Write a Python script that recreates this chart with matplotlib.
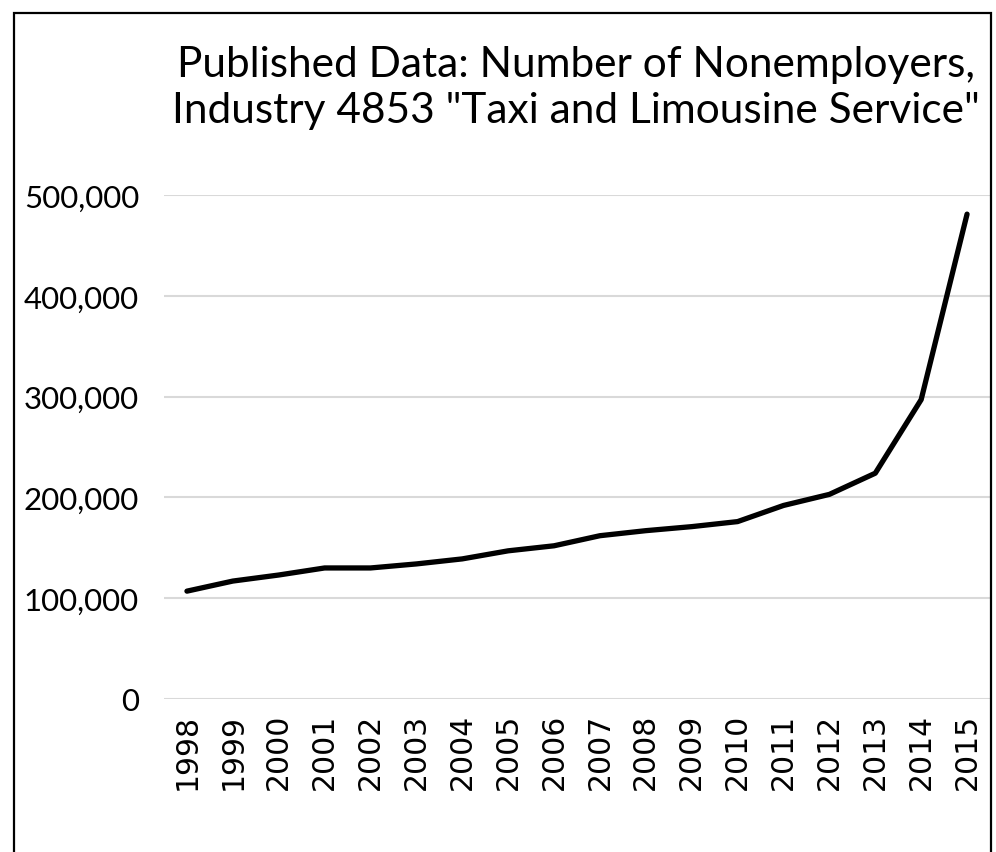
import matplotlib.pyplot as plt
from matplotlib.patches import Rectangle
from matplotlib.ticker import FuncFormatter

# Nonemployer counts, NAICS 4853
years = [str(y) for y in range(1998, 2016)]
nonemployers = [107000, 117000, 123000, 130000, 130000, 134000, 139000, 147000,
                152000, 162000, 167000, 171000, 176000, 192000, 203000, 224000,
                297000, 481000]
y_ticks = [0, 100000, 200000, 300000, 400000, 500000]

W, H = 996, 853
fig = plt.figure(figsize=(W / 100, H / 100), dpi=100)
ax = fig.add_axes([164 / W, 1 - 700 / H, (990 - 164) / W, (700 - 196) / H])

ax.plot(range(len(years)), nonemployers, color="black", lw=3.8,
        solid_capstyle="round", solid_joinstyle="round", clip_on=False, zorder=3)

ax.set_xlim(-0.5, len(years) - 0.5)
ax.set_ylim(0, 500000)
ax.set_yticks(y_ticks)
ax.yaxis.set_major_formatter(FuncFormatter(lambda v, p: f"{v:,.0f}"))
ax.set_xticks(range(len(years)))
ax.set_xticklabels(years, rotation=90, fontsize=21.5, family="DejaVu Sans")
for lab in ax.get_yticklabels():
    lab.set_family(["Lato", "DejaVu Sans"])
    lab.set_fontsize(22.5)
ax.tick_params(axis="both", length=0)
ax.tick_params(axis="y", pad=18)
ax.tick_params(axis="x", pad=10)
ax.grid(axis="y", color="#d9d9d9", lw=1.5)
ax.set_axisbelow(True)
for s in ax.spines.values():
    s.set_visible(False)

fig.text(576 / W, 1 - 88 / H,
         'Published Data: Number of Nonemployers,\nIndustry 4853 "Taxi and Limousine Service"',
         ha="center", va="center", fontsize=30.5, family=["Lato", "DejaVu Sans"],
         linespacing=1.25)

# chart-area border (bottom edge falls outside the crop)
fig.add_artist(Rectangle((14 / W, -0.05), (991 - 14) / W, 1.05 - 14 / H,
                         transform=fig.transFigure, fill=False,
                         edgecolor="black", lw=1.6))

fig.savefig("out.png", dpi=100)
